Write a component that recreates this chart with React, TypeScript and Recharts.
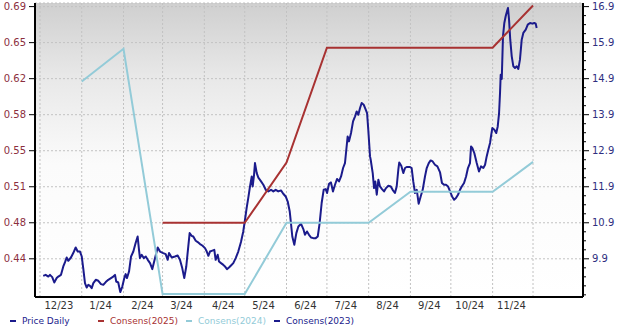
import React from 'react';
import { LineChart, Line, XAxis, YAxis, CartesianGrid, ReferenceLine } from 'recharts';

const DAY = 86400000;
const START = Date.UTC(2023, 11, 1);
const toDay = (s: string) => (Date.parse(s + 'T00:00:00Z') - START) / DAY;

// price, days after 2023-12-01
const priceDays = [
  2.4, 4.2, 6.2, 7.4, 9.1, 10.6, 12.4, 13.6, 15.6, 17.3, 18.6, 19.8, 21.0, 23.0, 24.7, 26.5, 28.0, 29.7, 31.0, 32.1,
  33.4, 34.7, 35.9, 37.1, 38.4, 39.6, 41.4, 43.3, 45.3, 47.0, 48.8, 50.7, 52.7, 54.4, 55.7, 56.6, 58.1, 59.6, 61.1, 62.6,
  63.6, 64.6, 66.1, 67.6, 69.3, 71.0, 72.5, 73.5, 74.2, 75.5, 77.0, 78.5, 80.0, 81.7, 83.4, 85.4, 87.4, 89.1, 91.5, 93.3,
  94.8, 95.8, 97.8, 100.2, 102.2, 103.9, 105.6, 107.1, 108.6, 109.7, 111.1, 112.6, 113.8, 115.6, 117.1, 118.8, 120.5, 122.5, 123.8, 125.0,
  126.2, 127.5, 129.4, 130.4, 131.9, 132.9, 134.4, 136.1, 137.3, 138.8, 140.3, 141.8, 143.5, 145.3, 147.2, 149.2, 150.9, 152.2, 153.4, 154.6,
  155.9, 157.2, 157.9, 158.9, 159.6, 160.9, 162.1, 164.1, 165.8, 167.6, 169.5, 171.5, 173.2, 175.0, 176.9, 178.9, 180.6, 182.4, 183.9, 185.4,
  186.3, 187.3, 188.8, 190.3, 191.8, 193.8, 195.5, 196.7, 198.2, 199.7, 201.2, 202.9, 204.7, 206.2, 207.6, 209.1, 210.6, 212.1, 213.1, 214.6,
  216.0, 217.5, 219.0, 220.5, 222.0, 223.5, 225.0, 226.4, 227.4, 228.4, 229.4, 230.9, 232.4, 233.9, 235.1, 236.3, 237.6, 238.8, 240.3, 241.8,
  242.8, 243.7, 245.0, 245.5, 247.0, 248.0, 248.9, 250.0, 251.2, 252.4, 253.9, 255.4, 256.9, 258.6, 260.4, 261.8, 263.5, 264.8, 266.0, 266.7,
  268.2, 269.7, 271.0, 272.2, 274.7, 275.9, 277.1, 278.4, 279.7, 281.1, 282.6, 284.1, 285.8, 287.1, 288.6, 290.0, 291.5, 293.2, 295.0, 297.0,
  298.4, 299.9, 301.4, 302.9, 304.4, 305.9, 307.4, 308.8, 310.3, 311.8, 313.1, 314.8, 316.3, 317.7, 319.2, 320.0, 321.0, 322.4, 324.2, 325.9,
  327.4, 329.1, 330.4, 331.6, 332.8, 334.1, 334.8, 335.8, 337.3, 338.7, 339.8, 340.8, 341.5, 342.0, 342.8, 343.2, 343.7, 344.7, 345.7, 346.7,
  347.4, 348.2, 349.1, 350.2, 351.4, 352.6, 353.9, 355.1, 356.3, 357.6, 358.8, 360.6, 362.1, 363.8, 365.5, 366.9, 368.0, 368.7,
];
const priceValues = [
  0.4231, 0.4241, 0.4224, 0.4241, 0.4218, 0.4165, 0.4209, 0.4224, 0.4241, 0.4324, 0.4367, 0.4413, 0.438, 0.4413, 0.4457, 0.4512, 0.4472, 0.4472, 0.4423, 0.4308,
  0.4159, 0.4115, 0.4142, 0.4132, 0.4109, 0.4159, 0.4192, 0.4182, 0.4149, 0.4142, 0.4169, 0.4192, 0.4209, 0.4224, 0.4241, 0.4175, 0.4165, 0.407, 0.4125, 0.4209,
  0.4248, 0.4209, 0.4274, 0.4423, 0.4472, 0.4556, 0.4621, 0.4489, 0.4407, 0.444, 0.4407, 0.4423, 0.439, 0.4357, 0.4298, 0.4407, 0.4512, 0.4472, 0.4457, 0.4447,
  0.439, 0.4457, 0.4413, 0.4423, 0.4433, 0.439, 0.4308, 0.4209, 0.4324, 0.4472, 0.4655, 0.4628, 0.4621, 0.4579, 0.4566, 0.4546, 0.4532, 0.4506, 0.4472, 0.443,
  0.4472, 0.4479, 0.4489, 0.439, 0.444, 0.4373, 0.4357, 0.434, 0.4324, 0.4298, 0.4314, 0.4334, 0.4357, 0.4407, 0.4472, 0.4566, 0.4671, 0.4787, 0.4903, 0.5002,
  0.5117, 0.5216, 0.5117, 0.5233, 0.5349, 0.525, 0.5204, 0.5167, 0.5134, 0.5084, 0.5068, 0.5084, 0.5068, 0.5084, 0.5068, 0.5078, 0.5045, 0.5018, 0.4968, 0.4869,
  0.4754, 0.4621, 0.4539, 0.4655, 0.472, 0.4747, 0.4695, 0.4638, 0.4671, 0.4638, 0.4611, 0.4605, 0.4605, 0.4621, 0.4754, 0.4953, 0.5084, 0.5091, 0.5052, 0.5144,
  0.5157, 0.5068, 0.5134, 0.5191, 0.5167, 0.5216, 0.53, 0.5349, 0.5481, 0.5613, 0.5564, 0.5647, 0.5762, 0.5812, 0.5861, 0.5828, 0.5895, 0.5945, 0.5928, 0.5878,
  0.5845, 0.568, 0.5415, 0.5382, 0.525, 0.5101, 0.5167, 0.5035, 0.5184, 0.5117, 0.5091, 0.5068, 0.5101, 0.5124, 0.5117, 0.5084, 0.5052, 0.5117, 0.5283, 0.5355,
  0.5323, 0.525, 0.53, 0.531, 0.531, 0.53, 0.5167, 0.5052, 0.5084, 0.4946, 0.5018, 0.5084, 0.5216, 0.53, 0.5349, 0.5375, 0.5365, 0.5332, 0.5316, 0.5256,
  0.5151, 0.5134, 0.5134, 0.5117, 0.5068, 0.5018, 0.4985, 0.5002, 0.5035, 0.5084, 0.5117, 0.5151, 0.5216, 0.53, 0.5349, 0.5514, 0.5498, 0.5449, 0.5349, 0.5266,
  0.5316, 0.53, 0.5332, 0.5415, 0.5481, 0.5548, 0.5613, 0.5697, 0.568, 0.5647, 0.5712, 0.5845, 0.6044, 0.6225, 0.6183, 0.6374, 0.6605, 0.6738, 0.6804, 0.6853,
  0.6887, 0.6771, 0.6572, 0.6407, 0.6308, 0.6292, 0.6308, 0.6282, 0.6374, 0.6572, 0.6639, 0.6672, 0.6721, 0.6738, 0.6731, 0.6738, 0.6731, 0.6688,
];

const cons2024Dates = ['2024-01-01', '2024-02-01', '2024-03-01', '2024-05-01', '2024-06-01', '2024-08-01', '2024-09-01', '2024-11-01', '2024-12-01'];
const cons2024Values = [14.82, 15.73, 8.92, 8.92, 10.9, 10.9, 11.76, 11.76, 12.59];

const cons2025Dates = ['2024-03-01', '2024-05-01', '2024-06-01', '2024-07-01', '2024-11-01', '2024-12-01'];
const cons2025Values = [10.9, 10.9, 12.57, 15.76, 15.76, 16.93];

const rightMajor = [9.9, 10.9, 11.9, 12.9, 13.9, 14.9, 15.9, 16.9];
const rightDomain = [8.84, 17.0];

const legendNames = ['Price Daily', 'Consens(2025)', 'Consens(2024)', 'Consens(2023)'];
const legendColors = ['#1b1b8c', '#a83232', '#93cbd8', '#1b1b8c'];

// left axis (price) is linked to right axis (EPS)
const toLeft = (r: number) => 0.44 + ((r - 9.9) * 0.25) / 7;
const leftDomain = [toLeft(rightDomain[0]), toLeft(rightDomain[1])];
const leftTicks = rightMajor.map(toLeft);

const rightTicks: number[] = [];
for (let v = 8.9; v <= 16.9001; v += 0.25) rightTicks.push(Math.round(v * 100) / 100);

const xDomain = [-3.7, 403.1];
const monthStarts: number[] = [];
const monthMids: number[] = [];
for (let i = 0; i <= 12; i++) {
  monthStarts.push((Date.UTC(2023, 11 + i, 1) - START) / DAY);
  if (i < 12) monthMids.push((Date.UTC(2023, 11 + i, 15) - START) / DAY);
}

const fmtMonth = (d: number) => {
  const dt = new Date(START + d * DAY);
  return `${dt.getUTCMonth() + 1}/${String(dt.getUTCFullYear()).slice(2)}`;
};

const priceData = priceDays.map((d, i) => ({ d, v: priceValues[i] }));
const c24Data = cons2024Dates.map((s, i) => ({ d: toDay(s), v: cons2024Values[i] }));
const c25Data = cons2025Dates.map((s, i) => ({ d: toDay(s), v: cons2025Values[i] }));

const FONT = '"DejaVu Sans", Verdana, sans-serif';

const RightTick = (props: any) => {
  const { x, y, payload } = props;
  const v = payload.value;
  const major = rightMajor.some((m) => Math.abs(m - v) < 1e-6);
  return (
    <g>
      <line x1={x} x2={x + (major ? 6 : 3)} y1={y} y2={y} stroke="#000" strokeWidth={1} />
      {major && (
        <text x={x + 9} y={y} dy={3.5} fontSize={10} fill="#2e2e80" fontFamily={FONT}>
          {v.toFixed(1)}
        </text>
      )}
    </g>
  );
};

const App = () => {
  return (
    <div style={{ position: 'absolute', left: 0, top: 0, width: 620, height: 329, background: '#fff' }}>
      <LineChart width={620} height={329} margin={{ top: 3, right: 0, bottom: 12, left: 0 }}>
        <defs>
          <linearGradient id="plotBg" x1="0" y1="0" x2="0" y2="1">
            <stop offset="0%" stopColor="#cfcfcf" />
            <stop offset="25%" stopColor="#e8e8e8" />
            <stop offset="55%" stopColor="#fbfbfb" />
            <stop offset="100%" stopColor="#ffffff" />
          </linearGradient>
        </defs>
        <CartesianGrid
          yAxisId="left"
          vertical={false}
          fill="url(#plotBg)"
          stroke="#c2c2c2"
          strokeDasharray="2 2"
        />
        {monthStarts.map((m) => (
          <ReferenceLine key={m} x={m} yAxisId="left" stroke="#c2c2c2" strokeDasharray="2 2" />
        ))}
        <XAxis
          dataKey="d"
          type="number"
          domain={xDomain}
          ticks={monthMids}
          interval={0}
          tickFormatter={fmtMonth}
          allowDataOverflow
          height={20}
          tickLine={false}
          tickSize={0}
          tickMargin={5}
          axisLine={{ stroke: '#000', strokeWidth: 2 }}
          tick={{ fontSize: 10, fill: '#333', fontFamily: FONT }}
        />
        <YAxis
          yAxisId="left"
          type="number"
          domain={leftDomain}
          ticks={leftTicks}
          interval={0}
          allowDataOverflow
          width={35}
          tickFormatter={(v: number) => v.toFixed(2)}
          tickSize={6}
          tickMargin={3}
          tickLine={{ stroke: '#000' }}
          axisLine={{ stroke: '#000', strokeWidth: 2 }}
          tick={{ fontSize: 10, fill: '#8c2f3e', fontFamily: FONT }}
        />
        <YAxis
          yAxisId="right"
          orientation="right"
          type="number"
          domain={rightDomain}
          ticks={rightTicks}
          interval={0}
          allowDataOverflow
          width={37}
          tickSize={0}
          tickMargin={0}
          tickLine={false}
          axisLine={{ stroke: '#000', strokeWidth: 2 }}
          tick={<RightTick />}
        />
        <Line
          yAxisId="left"
          data={priceData}
          dataKey="v"
          type="linear"
          stroke={legendColors[0]}
          strokeWidth={2}
          dot={false}
          strokeLinejoin="round"
          isAnimationActive={false}
        />
        <Line
          yAxisId="right"
          data={c24Data}
          dataKey="v"
          type="linear"
          stroke={legendColors[2]}
          strokeWidth={2}
          dot={false}
          isAnimationActive={false}
        />
        <Line
          yAxisId="right"
          data={c25Data}
          dataKey="v"
          type="linear"
          stroke={legendColors[1]}
          strokeWidth={2}
          dot={false}
          isAnimationActive={false}
        />
      </LineChart>
      {legendNames.map((name, i) => (
        <div
          key={name}
          style={{
            position: 'absolute',
            left: 10 + i * 88,
            top: 315,
            height: 12,
            display: 'flex',
            alignItems: 'center',
            fontFamily: FONT,
            fontSize: 9,
            color: legendColors[i],
            whiteSpace: 'nowrap',
          }}
        >
          <span style={{ display: 'inline-block', width: 6, height: 2, background: legendColors[i], marginRight: 6 }} />
          {name}
        </div>
      ))}
    </div>
  );
};

export default App;
